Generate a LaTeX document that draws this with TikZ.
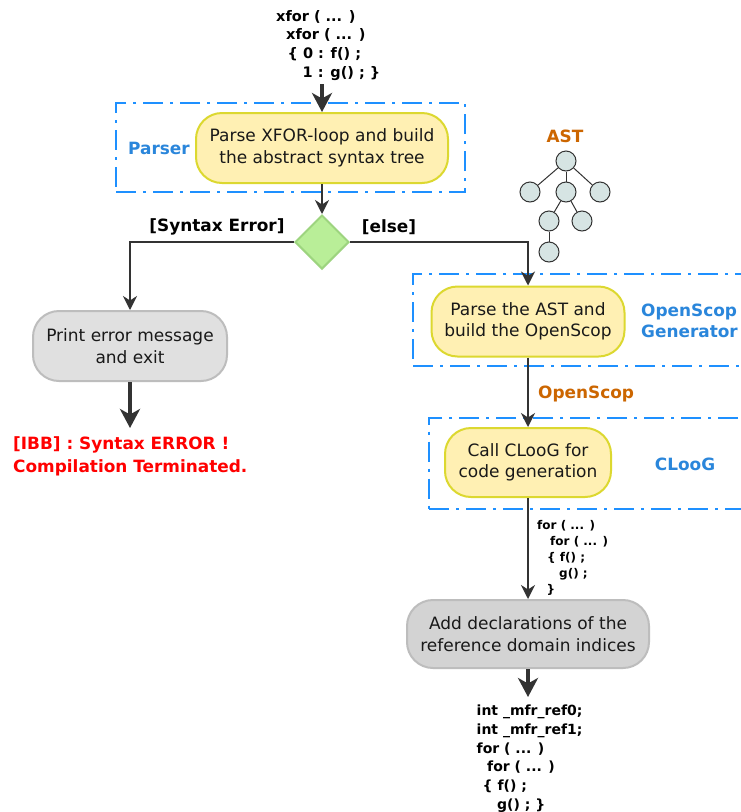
\documentclass[tikz,border=0pt]{standalone}
\usepackage{fontspec}
\setmainfont{DejaVu Sans}
\usetikzlibrary{arrows.meta,shapes.geometric}
\definecolor{grpblue}{HTML}{1E90FF}
\definecolor{lblblue}{HTML}{2A86DB}
\definecolor{ylwfill}{HTML}{FFF0B3}
\definecolor{ylwdraw}{HTML}{DCD830}
\definecolor{grayfill}{HTML}{E0E0E0}
\definecolor{graydraw}{HTML}{BDBDBD}
\definecolor{declfill}{HTML}{D3D3D3}
\definecolor{dmdfill}{HTML}{B9EE98}
\definecolor{dmddraw}{HTML}{9DD47F}
\definecolor{astfill}{HTML}{D6E4E3}
\definecolor{lnk}{HTML}{333333}
\definecolor{orng}{HTML}{CC6600}
\definecolor{errred}{HTML}{FF0000}
\begin{document}
\begin{tikzpicture}[x=1pt,y=-1pt,
  bigtxt/.style={font=\fontsize{17}{21.5}\selectfont},
  actbox/.style={rectangle, rounded corners=26pt, line width=2pt, align=center, inner sep=0pt, bigtxt, text=black!90},
  ybox/.style={actbox, fill=ylwfill, draw=ylwdraw},
  gbox/.style={actbox, fill=grayfill, draw=graydraw},
  dbox/.style={actbox, fill=declfill, draw=graydraw},
  groupbox/.style={draw=grpblue, line width=2pt, dash pattern=on 20pt off 7pt on 3pt off 7pt, rectangle, inner sep=0pt},
  grplbl/.style={font=\fontsize{16.9}{21}\selectfont\bfseries, text=lblblue, align=left, inner sep=0pt},
  orlbl/.style={font=\fontsize{16.9}{21}\selectfont\bfseries, text=orng, inner sep=0pt},
  condlbl/.style={font=\fontsize{16.9}{21}\selectfont\bfseries, text=black, inner sep=0pt},
  link/.style={draw=lnk, line width=2pt, -{Stealth[length=14pt,width=14pt,inset=4.5pt]}},
  biglink/.style={draw=lnk, line width=3.5pt, -{Stealth[length=19pt,width=20pt,inset=5.5pt]}},
  astnode/.style={circle, draw=lnk, line width=1pt, fill=astfill, minimum size=20pt, inner sep=0pt},
  astedge/.style={draw=lnk, line width=1pt},
  codetxt/.style={align=left, inner sep=0pt, anchor=north west}
]
\useasboundingbox (0,0) rectangle (741,812);
\fill[white] (0,0) rectangle (741,812);

% group boxes
\begin{scope}
\clip (0,0) rectangle (741,812);
\node[groupbox, minimum width=349pt, minimum height=89pt] (gparser) at (290.5,147.5) {};
\node[groupbox, minimum width=347pt, minimum height=92pt] (gos) at (586.5,320) {};
\node[groupbox, minimum width=331pt, minimum height=91pt] (gcl) at (594.5,463) {};
\end{scope}

% top code
\node[codetxt, font=\fontsize{14.5}{18.7}\selectfont\bfseries] (code0) at (276,10)
  {xfor ( ... )\\\hspace*{10pt}xfor ( ... )\\\hspace*{11.5pt}\{ 0 : f() ;\\\hspace*{26.5pt}1 : g() ; \}};
\coordinate (c0) at (322,84);

% main boxes
\node[ybox, minimum width=252pt, minimum height=70pt] (parse) at (322,148) {Parse XFOR-loop and build\\the abstract syntax tree};
\node[diamond, fill=dmdfill, draw=dmddraw, line width=2pt, minimum width=54pt, minimum height=54pt, inner sep=0pt] (dia) at (322,242) {};
\node[gbox, minimum width=194pt, minimum height=70pt] (print) at (130,346) {Print error message\\and exit};
\node[ybox, minimum width=193pt, minimum height=70pt] (ast2os) at (528,321.5) {Parse the AST and\\build the OpenScop};
\node[ybox, minimum width=166pt, minimum height=69pt] (cloog) at (528,462.5) {Call CLooG for\\code generation};
\node[dbox, minimum width=242pt, minimum height=68pt] (decl) at (528,634) {Add declarations of the\\reference domain indices};

% labels
\node[grplbl] (lparser) at (159,148) {Parser};
\node[grplbl, anchor=west] (los) at (641,320.5) {OpenScop\\Generator};
\node[grplbl] (lcl) at (685,464) {CLooG};
\node[orlbl, anchor=west] (lopen) at (538,394) {OpenScop};
\node[orlbl] (last) at (565,136) {AST};
\node[condlbl] (lse) at (217,227) {[Syntax Error]};
\node[condlbl] (lelse) at (389,227) {[else]};

% error text
\node[codetxt, font=\fontsize{16.9}{23}\selectfont\bfseries, text=errred] (err) at (13,436) {[IBB] : Syntax ERROR !\\Compilation Terminated.};
\coordinate (c1) at (130,428);

% small code
\node[codetxt, font=\fontsize{12}{16}\selectfont\bfseries] (code1) at (537,520.5)
  {for ( ... )\\\hspace*{13pt}for ( ... )\\\hspace*{10pt}\{ f() ;\\\hspace*{22pt}g() ;\\\hspace*{9.5pt}\}};

% bottom code
\node[codetxt, font=\fontsize{14}{18.7}\selectfont\bfseries] (code2) at (476.5,705)
  {int \_mfr\_ref0;\\int \_mfr\_ref1;\\for ( ... )\\\hspace*{10.5pt}for ( ... )\\\hspace*{6pt}\{ f() ;\\\hspace*{20.5pt}g() ; \}};
\coordinate (c2) at (528,697);

% connectors
\draw[biglink] (c0) -- (parse.north);
\draw[link] (parse.south) -- (dia.north);
\draw[link] (dia.west) -| (print.north);
\draw[link] (dia.east) -| (ast2os.north);
\draw[link] (ast2os.south) -- (cloog.north);
\draw[link] (cloog.south) -- (decl.north);
\draw[biglink] (print.south) -- (c1);
\draw[biglink] (decl.south) -- (c2);

% AST tree
\node[astnode] (t0) at (566,161) {};
\node[astnode] (t1) at (530,192) {};
\node[astnode] (t2) at (566,192) {};
\node[astnode] (t3) at (600,192) {};
\node[astnode] (t4) at (549,221) {};
\node[astnode] (t5) at (582,221) {};
\node[astnode] (t6) at (549,252) {};
\draw[astedge] (t0) -- (t1);
\draw[astedge] (t0) -- (t2);
\draw[astedge] (t0) -- (t3);
\draw[astedge] (t2) -- (t4);
\draw[astedge] (t2) -- (t5);
\draw[astedge] (t4) -- (t6);
\end{tikzpicture}
\end{document}
